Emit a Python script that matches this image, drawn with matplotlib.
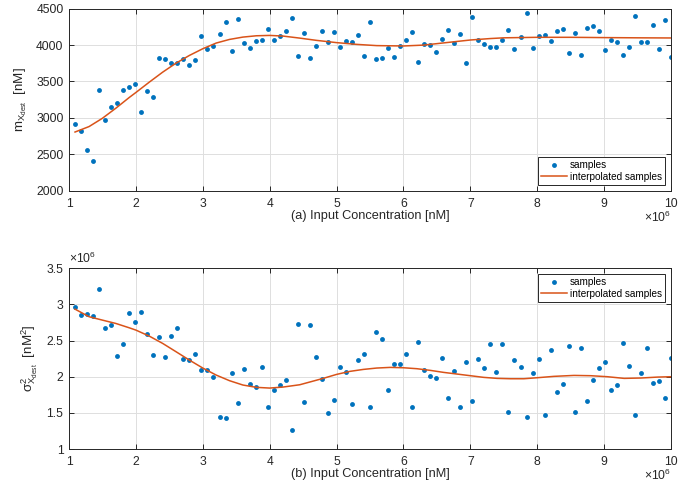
import numpy as np
import matplotlib
matplotlib.use("Agg")
import matplotlib.pyplot as plt
from matplotlib.ticker import FuncFormatter, MultipleLocator

plt.rcParams['font.family'] = ['Liberation Sans', 'DejaVu Sans']
plt.rcParams['mathtext.fontset'] = 'custom'
plt.rcParams['mathtext.rm'] = 'Liberation Sans'
plt.rcParams['mathtext.it'] = 'Liberation Sans'
plt.rcParams['mathtext.bf'] = 'Liberation Sans:bold'

# ---------------- data ----------------
x_samples = np.linspace(1.09e6, 1.0e7, 100)

mean_samples = [
    2916, 2815, 2563, 2403, 3383, 2966, 3154, 3200, 3379, 3429,
    3466, 3081, 3365, 3282, 3818, 3805, 3754, 3750, 3805, 3731,
    3795, 4125, 3947, 3992, 4157, 4317, 3914, 4363, 4024, 3965,
    4061, 4070, 4226, 4070, 4125, 4198, 4372, 3850, 4171, 3823,
    3988, 4194, 4047, 4185, 3979, 4056, 4043, 4143, 3846, 4313,
    3814, 3827, 3965, 3841, 3988, 4070, 4185, 3772, 4020, 4001,
    3910, 4088, 4208, 4034, 4157, 3759, 4386, 4075, 4011, 3974,
    3974, 4070, 4212, 3951, 4107, 4441, 3965, 4125, 4143, 4061,
    4194, 4226, 3887, 4166, 3869, 4230, 4267, 4189, 3937, 4075,
    4038, 3869, 3974, 4400, 4047, 4043, 4281, 3951, 4350, 3832,
]

var_samples = [
    2.960, 2.854, 2.868, 2.845, 3.214, 2.670, 2.716, 2.292, 2.453, 2.887,
    2.762, 2.896, 2.596, 2.305, 2.554, 2.268, 2.564, 2.674, 2.250, 2.232,
    2.310, 2.093, 2.089, 1.996, 1.443, 1.424, 2.047, 1.632, 2.112, 1.899,
    1.858, 2.139, 1.577, 1.821, 1.881, 1.955, 1.258, 2.730, 1.646, 2.716,
    2.268, 1.969, 1.503, 1.678, 2.135, 2.070, 1.623, 2.232, 2.310, 1.577,
    2.624, 2.518, 1.816, 2.176, 2.176, 2.310, 1.586, 2.476, 2.093, 2.015,
    1.982, 2.255, 1.710, 2.075, 1.577, 2.208, 1.660, 2.241, 2.116, 2.458,
    2.066, 2.458, 1.512, 2.232, 2.135, 1.443, 2.056, 2.245, 1.466, 2.370,
    1.784, 1.899, 2.425, 1.512, 2.398, 1.660, 1.959, 2.116, 2.204, 1.816,
    1.890, 2.462, 2.144, 1.475, 2.052, 2.393, 1.913, 1.946, 1.701, 2.264,
]
var_samples = [v * 1e6 for v in var_samples]

mean_curve_x = [1.09, 1.3, 1.5, 1.7, 1.9, 2.0, 2.2, 2.4, 2.6, 2.8, 3.0, 3.2,
                3.4, 3.6, 3.8, 4.0, 4.2, 4.45, 4.7, 5.0, 5.3, 5.6, 6.0, 6.3,
                6.5, 6.8, 7.0, 7.3, 7.5, 8.0, 8.5, 9.0, 9.5, 10.0]
mean_curve_y = [2806, 2881, 2995, 3133, 3280, 3349, 3491, 3628, 3752, 3858,
                3950, 4028, 4078, 4110, 4128, 4133, 4124, 4096, 4065, 4034,
                4010, 3993, 3988, 4000, 4020, 4050, 4070, 4090, 4100, 4107,
                4107, 4103, 4100, 4098]
mean_curve_x = [v * 1e6 for v in mean_curve_x]

var_curve_x = [1.09, 1.3, 1.5, 1.7, 1.9, 2.0, 2.2, 2.4, 2.6, 2.8, 3.0, 3.2,
               3.4, 3.6, 3.8, 4.0, 4.2, 4.45, 4.8, 5.0, 5.2, 5.4, 5.6, 5.8,
               6.0, 6.2, 6.4, 6.6, 6.8, 7.0, 7.2, 7.4, 7.6, 7.8, 8.0, 8.25,
               8.55, 8.8, 9.05, 9.3, 9.55, 9.8, 10.0]
var_curve_y = [2.935, 2.830, 2.783, 2.737, 2.677, 2.645, 2.562, 2.461, 2.346,
               2.230, 2.120, 2.023, 1.945, 1.885, 1.853, 1.843, 1.857, 1.889,
               1.977, 2.032, 2.074, 2.101, 2.120, 2.129, 2.124, 2.111, 2.088,
               2.060, 2.037, 2.014, 1.991, 1.977, 1.972, 1.972, 1.986, 2.005,
               2.018, 2.014, 2.000, 1.977, 1.982, 1.995, 2.000]
var_curve_x = [v * 1e6 for v in var_curve_x]
var_curve_y = [v * 1e6 for v in var_curve_y]

xlabels = ['(a) Input Concentration [nM]', '(b) Input Concentration [nM]']
ylabels = [r'$m_{X_{dest}}$  [nM]', r'$\sigma^2_{X_{dest}}$  [nM$^2$]']
legend_labels = ['samples', 'interpolated samples']

# ---------------- style ----------------
BLUE = '#0072BD'
ORANGE = '#D95319'
AXC = '#262626'
GRIDC = '#dedede'
TICKFS = 8.7

fig = plt.figure(figsize=(6.99, 4.90), dpi=100)
ax1 = fig.add_axes([69/699, 1 - 190.7/490, 602/699, 182/490])
ax2 = fig.add_axes([69/699, 1 - 449/490, 602/699, 180.7/490])

def style(ax):
    for s in ax.spines.values():
        s.set_color(AXC)
        s.set_linewidth(0.7)
    ax.tick_params(direction='in', top=True, right=True, length=3.5,
                   width=0.7, color=AXC, labelsize=TICKFS, labelcolor=AXC)
    ax.tick_params(axis='x', pad=5)
    ax.tick_params(axis='y', pad=4)
    ax.grid(True, color=GRIDC, linewidth=0.7)
    ax.set_axisbelow(True)
    ax.set_xlim(1e6, 1e7)
    ax.xaxis.set_major_locator(MultipleLocator(1e6))
    ax.xaxis.set_major_formatter(FuncFormatter(lambda v, p: '%g' % (v / 1e6)))
    ax.text(1.0, -0.105, r'$\times10^6$', transform=ax.transAxes, ha='right',
            va='top', fontsize=TICKFS, color=AXC)

# top
ax1.plot(x_samples, mean_samples, 'o', color=BLUE, markersize=3.5,
         markeredgewidth=0, label=legend_labels[0])
ax1.plot(mean_curve_x, mean_curve_y, '-', color=ORANGE, linewidth=1.1,
         label=legend_labels[1])
style(ax1)
ax1.set_ylim(2000, 4500)
ax1.yaxis.set_major_locator(MultipleLocator(500))
ax1.set_xlabel(xlabels[0], fontsize=9.2, color=AXC, labelpad=0)
ax1.set_ylabel(ylabels[0], fontsize=9.6, color=AXC, labelpad=5)

# bottom
ax2.plot(x_samples, var_samples, 'o', color=BLUE, markersize=3.5,
         markeredgewidth=0, label=legend_labels[0])
ax2.plot(var_curve_x, var_curve_y, '-', color=ORANGE, linewidth=1.1,
         label=legend_labels[1])
style(ax2)
ax2.set_ylim(1e6, 3.5e6)
ax2.yaxis.set_major_locator(MultipleLocator(0.5e6))
ax2.yaxis.set_major_formatter(FuncFormatter(lambda v, p: '%g' % (v / 1e6)))
ax2.text(0.0, 1.01, r'$\times10^6$', transform=ax2.transAxes, ha='left',
         va='bottom', fontsize=TICKFS, color=AXC)
ax2.set_xlabel(xlabels[1], fontsize=9.2, color=AXC, labelpad=0)
ax2.set_ylabel(ylabels[1], fontsize=9.6, color=AXC, labelpad=5)

for ax, loc in ((ax1, 'lower right'), (ax2, 'upper right')):
    leg = ax.legend(loc=loc, fontsize=7.2, frameon=True, fancybox=False,
                    edgecolor=AXC, framealpha=1, borderpad=0.3,
                    handlelength=2.6, handletextpad=0.3, labelspacing=0.15,
                    borderaxespad=0.6, numpoints=1)
    leg.get_frame().set_linewidth(0.7)

fig.savefig('out.png', dpi=100)
